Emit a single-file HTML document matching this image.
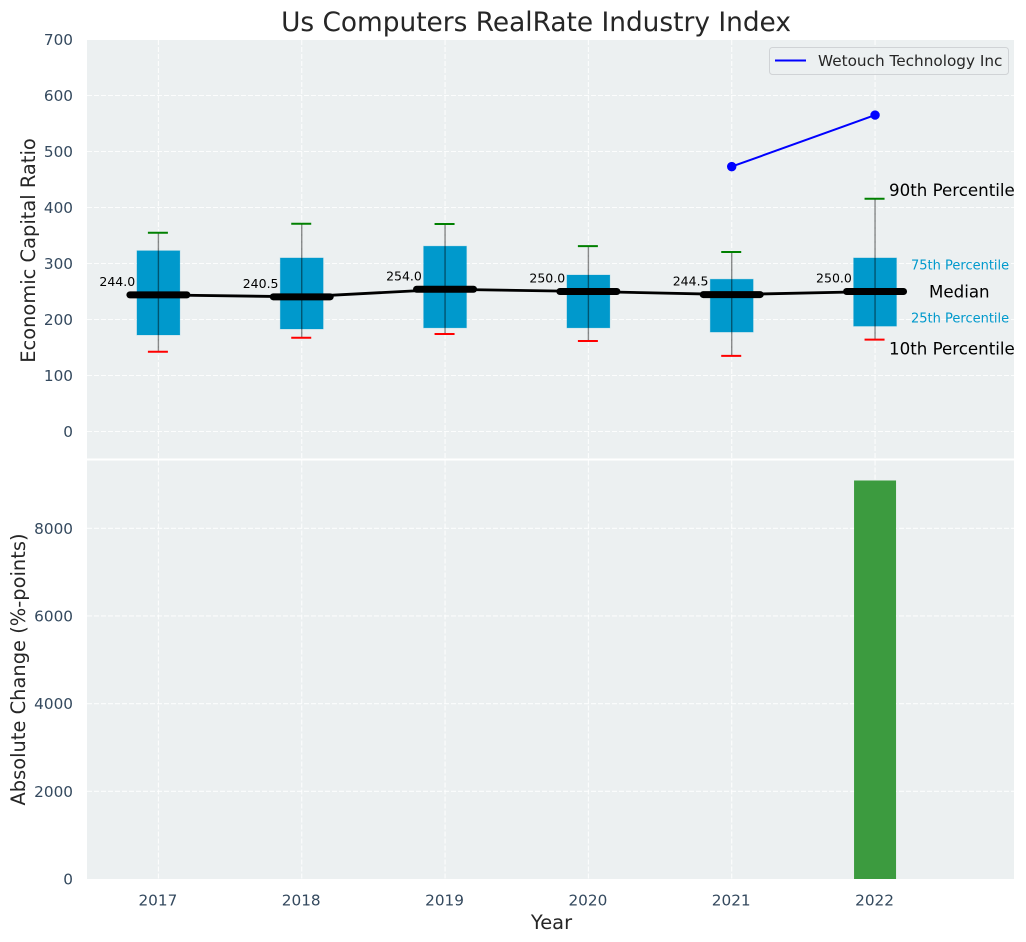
<!DOCTYPE html>
<html>
<head>
<meta charset="utf-8">
<title>Us Computers RealRate Industry Index</title>
<style>
html,body{margin:0;padding:0;background:#fff;}
svg{display:block;font-family:"DejaVu Sans","Liberation Sans",sans-serif;}
</style>
</head>
<body>
<svg id="chart" xmlns="http://www.w3.org/2000/svg" width="1026" height="942" viewBox="0 0 1026 942"></svg>
<script>
const years = [2017, 2018, 2019, 2020, 2021, 2022];
const medians = [244.0, 240.5, 254.0, 250.0, 244.5, 250.0];
const p90 = [355, 371, 370.5, 331, 320.5, 415.7];
const p75 = [322.9, 310, 331, 279.5, 272, 310];
const p25 = [172.3, 183, 185, 185, 177.5, 188];
const p10 = [142.5, 167.5, 174, 161.5, 135, 164];
const companyYears = [2021, 2022];
const companyValues = [473, 565];
const changeYears = [2022];
const changeValues = [9090];
const topTicks = [0, 100, 200, 300, 400, 500, 600, 700];
const bottomTicks = [0, 2000, 4000, 6000, 8000];

const NS = 'http://www.w3.org/2000/svg';
const svg = document.getElementById('chart');
const L = 87, R = 1014, T1 = 40, B1 = 458.5, T2 = 460.5, B2 = 879;
const x = v => 158.4 + (v - 2017) * 143.33;
const y1 = v => 431.5 - v * 0.56;
const y2 = v => 879 - v * 0.04384;

function el(tag, attrs, parent) {
  const e = document.createElementNS(NS, tag);
  for (const k in attrs) e.setAttribute(k, attrs[k]);
  (parent || svg).appendChild(e);
  return e;
}
function label(str, attrs, parent) {
  const t = el('text', attrs, parent);
  t.textContent = str;
  return t;
}

/* panels */
const panelTop = el('rect', {x: L, y: T1, width: R - L, height: B1 - T1, fill: '#ecf0f1'});


const panelBottom = el('rect', {x: L, y: T2, width: R - L, height: B2 - T2, fill: '#ecf0f1'});



/* grid */
const gridStyle = {stroke: '#ffffff', 'stroke-width': 1.1, 'stroke-dasharray': '5 2', 'stroke-opacity': 0.85, fill: 'none'};
for (const t of topTicks) {
  if (y1(t) > T1 + 1) {
    const g = el('line', Object.assign({x1: L, x2: R, y1: y1(t), y2: y1(t)}, gridStyle));
    
    
  }
  const tl = label(String(t), {x: 73, y: y1(t) + 5.5, 'text-anchor': 'end', 'font-size': 15.28, fill: '#34495e'});
  
  
}
for (const t of bottomTicks) {
  if (t > 0) {
    const g = el('line', Object.assign({x1: L, x2: R, y1: y2(t), y2: y2(t)}, gridStyle));
    
    
  }
  const tl = label(String(t), {x: 73, y: y2(t) + 5.5, 'text-anchor': 'end', 'font-size': 15.28, fill: '#34495e'});
  
  
}
years.forEach(yr => {
  const g1 = el('line', Object.assign({x1: x(yr), x2: x(yr), y1: T1, y2: B1}, gridStyle));
  
  
  const g2 = el('line', Object.assign({x1: x(yr), x2: x(yr), y1: T2, y2: B2}, gridStyle));
  
  
  const tl = label(String(yr), {x: x(yr) - 0.5, y: 905.5, 'text-anchor': 'middle', 'font-size': 15.28, fill: '#34495e'});
  
  
});

/* boxes */
years.forEach((yr, i) => {
  const box = el('rect', {x: x(yr) - 21.5, y: y1(p75[i]), width: 43, height: y1(p25[i]) - y1(p75[i]), fill: '#0099cc', stroke: '#0099cc', 'stroke-opacity': 0.2, 'stroke-width': 1});
  
  
  const w = el('line', {x1: x(yr), x2: x(yr), y1: y1(p90[i]), y2: y1(p10[i]), stroke: '#000', 'stroke-opacity': 0.45, 'stroke-width': 1.4});
  
  
  const hi = el('line', {x1: x(yr) - 10.5, x2: x(yr) + 9.5, y1: y1(p90[i]), y2: y1(p90[i]), stroke: '#008000', 'stroke-width': 2});
  
  
  const lo = el('line', {x1: x(yr) - 10.5, x2: x(yr) + 9.5, y1: y1(p10[i]), y2: y1(p10[i]), stroke: '#ff0000', 'stroke-width': 2});
  
  
});

/* median trend */
const trend = el('polyline', {points: years.map((yr, i) => x(yr) + ',' + y1(medians[i])).join(' '), fill: 'none', stroke: '#000', 'stroke-width': 2.8});


years.forEach((yr, i) => {
  const m = el('line', {x1: x(yr) - 28.5, x2: x(yr) + 28.5, y1: y1(medians[i]), y2: y1(medians[i]), stroke: '#000', 'stroke-width': 7, 'stroke-linecap': 'round'});
  
  
  const v = label(medians[i].toFixed(1), {x: x(yr) - 23.2, y: y1(medians[i]) - 9, 'text-anchor': 'end', 'font-size': 12.5, fill: '#000'});
  
  
});

/* company line */
const co = el('polyline', {points: companyYears.map((yr, i) => x(yr) + ',' + y1(companyValues[i])).join(' '), fill: 'none', stroke: '#0000ff', 'stroke-width': 2});


companyYears.forEach((yr, i) => {
  const c = el('circle', {cx: x(yr), cy: y1(companyValues[i]), r: 4.7, fill: '#0000ff'});
  
  
});

/* change bars */
changeYears.forEach((yr, i) => {
  const b = el('rect', {x: x(yr) - 21, y: y2(changeValues[i]), width: 42, height: y2(0) - y2(changeValues[i]), fill: '#3c9b3f'});
  
  
});

/* annotations */
const a90 = label('90th Percentile', {x: 889, y: 196, 'font-size': 16.67, fill: '#000'});


const a75 = label('75th Percentile', {x: 911, y: 269.5, 'font-size': 13, fill: '#0099cc'});


const aMed = label('Median', {x: 929, y: 297.5, 'font-size': 16.67, fill: '#000'});


const a25 = label('25th Percentile', {x: 911, y: 322.5, 'font-size': 13, fill: '#0099cc'});


const a10 = label('10th Percentile', {x: 889, y: 354.5, 'font-size': 16.67, fill: '#000'});



/* legend */
const legend = el('g', {});


const legendBox = el('rect', {x: 769.5, y: 47.5, width: 239, height: 27, rx: 3, fill: '#ecf0f1', 'fill-opacity': 0.8, stroke: '#d0d3d6', 'stroke-width': 1}, legend);


const legendLine = el('line', {x1: 775, x2: 806, y1: 60.5, y2: 60.5, stroke: '#0000ff', 'stroke-width': 2}, legend);


const legendText = label('Wetouch Technology Inc', {x: 818, y: 66, 'font-size': 15.28, fill: '#262626'}, legend);



/* titles */
const title = label('Us Computers RealRate Industry Index', {x: 536, y: 31, 'text-anchor': 'middle', 'font-size': 26.39, fill: '#262626'});


const yt1 = label('Economic Capital Ratio', {transform: 'translate(35,250.5) rotate(-90)', 'text-anchor': 'middle', 'font-size': 19.44, fill: '#262626'});


const yt2 = label('Absolute Change (%-points)', {transform: 'translate(25,669.5) rotate(-90)', 'text-anchor': 'middle', 'font-size': 19.44, fill: '#262626'});


const xt = label('Year', {x: 551.5, y: 929, 'text-anchor': 'middle', 'font-size': 19.44, fill: '#262626'});


</script>
</body>
</html>
